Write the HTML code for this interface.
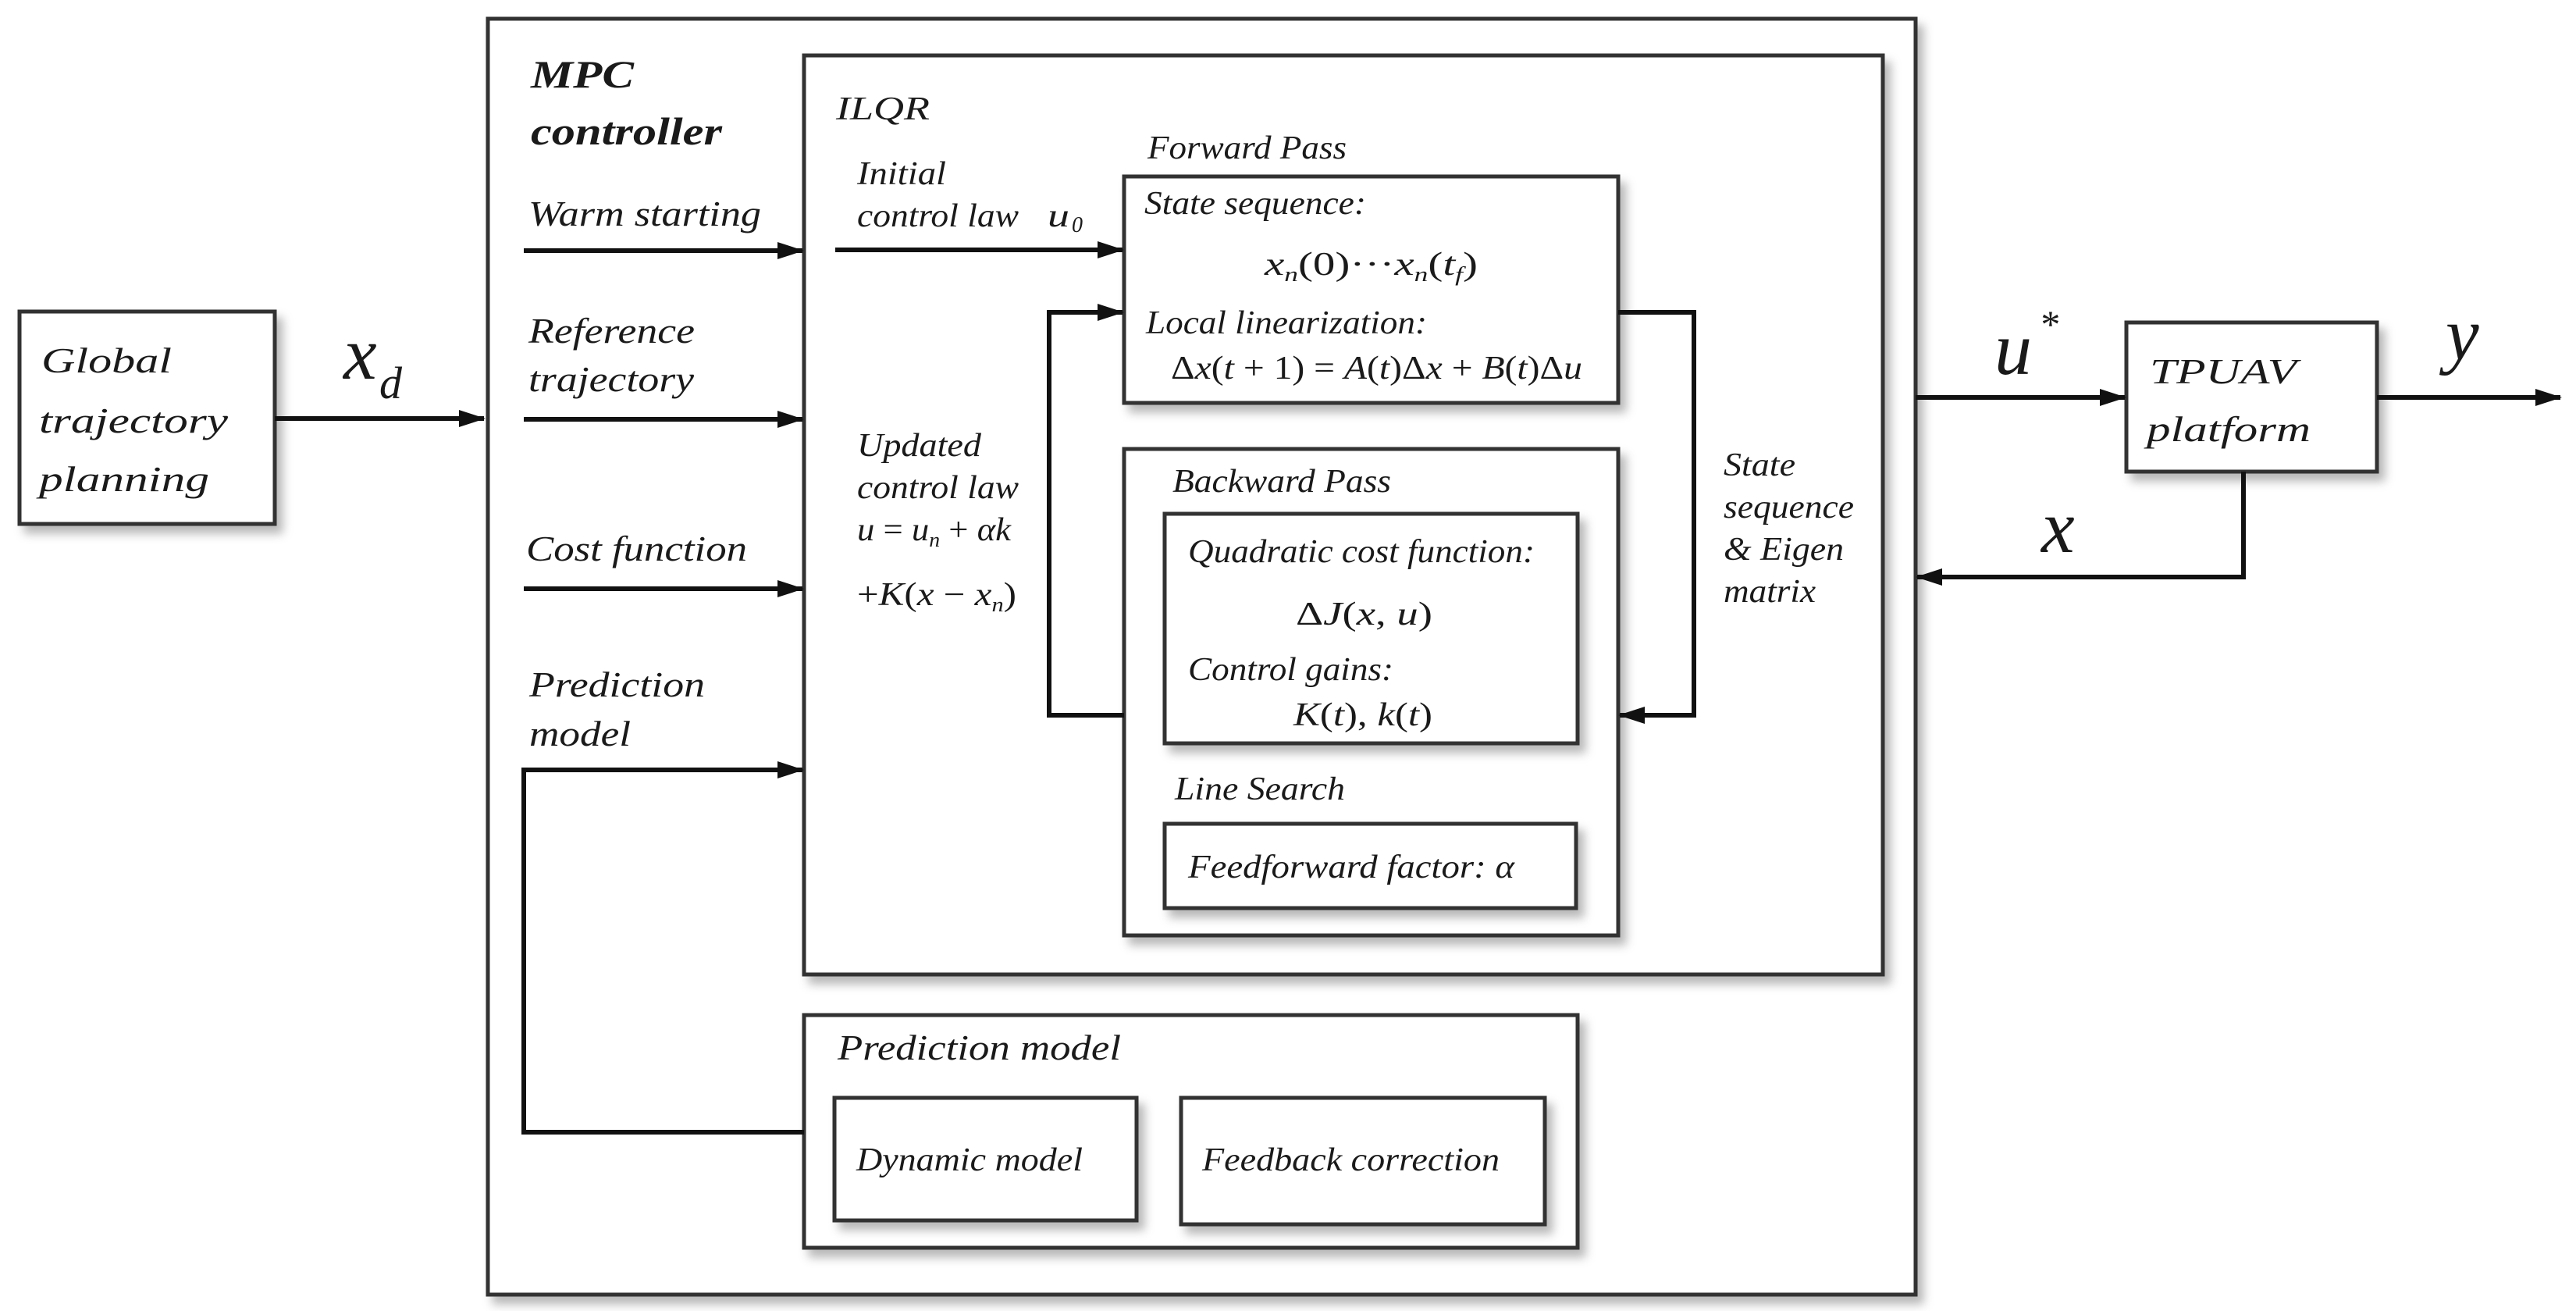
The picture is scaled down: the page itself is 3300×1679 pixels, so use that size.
<!DOCTYPE html>
<html><head><meta charset="utf-8"><style>
html,body{margin:0;padding:0;background:#fff;}
svg{display:block;}
text{font-family:"Liberation Serif",serif;font-style:italic;fill:#1a1a1a;}
</style></head><body>
<svg width="3300" height="1679" viewBox="0 0 3300 1679" xmlns="http://www.w3.org/2000/svg">
<defs>
<filter id="sh" x="-5%" y="-5%" width="115%" height="115%">
<feDropShadow dx="8" dy="10" stdDeviation="6" flood-color="#000" flood-opacity="0.28"/>
</filter>
<marker id="ar" markerWidth="34" markerHeight="26" refX="32" refY="13" orient="auto" markerUnits="userSpaceOnUse">
<path d="M0,2 L34,13 L0,24 Z" fill="#111"/>
</marker>
</defs>
<g fill="#fff" stroke="#333" stroke-width="5" filter="url(#sh)">
<rect x="25" y="399" width="327" height="272"/>
<rect x="625" y="24" width="1829" height="1634"/>
</g>
<g fill="#fff" stroke="#333" stroke-width="5" filter="url(#sh)">
<rect x="1030" y="71" width="1382" height="1177"/>
<rect x="2724" y="413" width="321" height="191"/>
<rect x="1030" y="1300" width="991" height="298"/>
</g>
<g fill="#fff" stroke="#333" stroke-width="5" filter="url(#sh)">
<rect x="1440" y="226" width="633" height="290"/>
<rect x="1440" y="575" width="633" height="623"/>
<rect x="1069" y="1406" width="387" height="157"/>
<rect x="1513" y="1406" width="466" height="162"/>
</g>
<g fill="#fff" stroke="#333" stroke-width="5" filter="url(#sh)">
<rect x="1492" y="658" width="529" height="294"/>
<rect x="1492" y="1055" width="527" height="108"/>
</g>
<g fill="none" stroke="#111" stroke-width="6">
<line x1="352" y1="536" x2="620" y2="536" marker-end="url(#ar)"/>
<line x1="671" y1="321" x2="1028" y2="321" marker-end="url(#ar)"/>
<line x1="671" y1="537" x2="1028" y2="537" marker-end="url(#ar)"/>
<line x1="671" y1="754" x2="1028" y2="754" marker-end="url(#ar)"/>
<polyline points="1030,1450 671,1450 671,986 1028,986" marker-end="url(#ar)"/>
<line x1="1070" y1="320" x2="1438" y2="320" marker-end="url(#ar)"/>
<polyline points="1440,916 1344,916 1344,400 1438,400" marker-end="url(#ar)"/>
<polyline points="2073,400 2170,400 2170,916 2075,916" marker-end="url(#ar)"/>
<line x1="2454" y1="509" x2="2722" y2="509" marker-end="url(#ar)"/>
<line x1="3045" y1="509" x2="3280" y2="509" marker-end="url(#ar)"/>
<polyline points="2874,604 2874,739 2456,739" marker-end="url(#ar)"/>
</g>
<g font-size="46">
<text x="53" y="477" textLength="167" lengthAdjust="spacingAndGlyphs">Global</text>
<text x="50" y="554" textLength="242" lengthAdjust="spacingAndGlyphs">trajectory</text>
<text x="50" y="629" textLength="218" lengthAdjust="spacingAndGlyphs">planning</text>
<text x="680" y="112" font-weight="bold" font-size="50" textLength="132" lengthAdjust="spacingAndGlyphs">MPC</text>
<text x="680" y="185" font-weight="bold" font-size="50" textLength="245" lengthAdjust="spacingAndGlyphs">controller</text>
<text x="677" y="289" textLength="298" lengthAdjust="spacingAndGlyphs">Warm starting</text>
<text x="677" y="439" textLength="213" lengthAdjust="spacingAndGlyphs">Reference</text>
<text x="677" y="501" textLength="212" lengthAdjust="spacingAndGlyphs">trajectory</text>
<text x="674" y="718" textLength="283" lengthAdjust="spacingAndGlyphs">Cost function</text>
<text x="678" y="892" textLength="225" lengthAdjust="spacingAndGlyphs">Prediction</text>
<text x="678" y="955" textLength="130" lengthAdjust="spacingAndGlyphs">model</text>
<text x="2754" y="491" textLength="188" lengthAdjust="spacingAndGlyphs">TPUAV</text>
<text x="2750" y="565" textLength="210" lengthAdjust="spacingAndGlyphs">platform</text>
</g>
<g font-size="42">
<text x="1071" y="153" textLength="120" lengthAdjust="spacingAndGlyphs">ILQR</text>
<text x="1098" y="236" textLength="114" lengthAdjust="spacingAndGlyphs">Initial</text>
<text x="1098" y="290" textLength="207" lengthAdjust="spacingAndGlyphs">control law</text>
<text x="1342" y="290" font-style="normal" textLength="28" lengthAdjust="spacingAndGlyphs">u</text>
<text x="1373" y="297" font-style="normal" font-size="28">0</text>
<text x="1470" y="203" textLength="255" lengthAdjust="spacingAndGlyphs">Forward Pass</text>
<text x="1466" y="274" textLength="284" lengthAdjust="spacingAndGlyphs">State sequence:</text>
<text x="1620" y="352" textLength="273" lengthAdjust="spacingAndGlyphs">x<tspan font-size="26" dy="8">n</tspan><tspan dy="-8" font-style="normal">(0)···</tspan>x<tspan font-size="26" dy="8">n</tspan><tspan dy="-8" font-style="normal">(</tspan>t<tspan font-size="26" dy="8">f</tspan><tspan dy="-8" font-style="normal">)</tspan></text>
<text x="1468" y="427" textLength="360" lengthAdjust="spacingAndGlyphs">Local linearization:</text>
<text x="1500" y="485" textLength="527" lengthAdjust="spacingAndGlyphs"><tspan font-style="normal">Δ</tspan>x<tspan font-style="normal">(</tspan>t<tspan font-style="normal"> + 1) = </tspan>A<tspan font-style="normal">(</tspan>t<tspan font-style="normal">)Δ</tspan>x<tspan font-style="normal"> + </tspan>B<tspan font-style="normal">(</tspan>t<tspan font-style="normal">)Δ</tspan>u</text>
<text x="1098" y="584" textLength="159" lengthAdjust="spacingAndGlyphs">Updated</text>
<text x="1098" y="638" textLength="207" lengthAdjust="spacingAndGlyphs">control law</text>
<text x="1098" y="692" textLength="197" lengthAdjust="spacingAndGlyphs">u<tspan font-style="normal"> = </tspan>u<tspan font-size="26" dy="8">n</tspan><tspan dy="-8" font-style="normal"> + </tspan>αk</text>
<text x="1098" y="775" textLength="204" lengthAdjust="spacingAndGlyphs"><tspan font-style="normal">+</tspan>K<tspan font-style="normal">(</tspan>x<tspan font-style="normal"> − </tspan>x<tspan font-size="26" dy="8">n</tspan><tspan dy="-8" font-style="normal">)</tspan></text>
<text x="1502" y="630" textLength="280" lengthAdjust="spacingAndGlyphs">Backward Pass</text>
<text x="1522" y="720" textLength="444" lengthAdjust="spacingAndGlyphs">Quadratic cost function:</text>
<text x="1660" y="800" textLength="175" lengthAdjust="spacingAndGlyphs"><tspan font-style="normal">Δ</tspan>J<tspan font-style="normal">(</tspan>x<tspan font-style="normal">, </tspan>u<tspan font-style="normal">)</tspan></text>
<text x="1522" y="871" textLength="263" lengthAdjust="spacingAndGlyphs">Control gains:</text>
<text x="1657" y="929" textLength="178" lengthAdjust="spacingAndGlyphs">K<tspan font-style="normal">(</tspan>t<tspan font-style="normal">), </tspan>k<tspan font-style="normal">(</tspan>t<tspan font-style="normal">)</tspan></text>
<text x="1505" y="1024" textLength="218" lengthAdjust="spacingAndGlyphs">Line Search</text>
<text x="1522" y="1124" textLength="418" lengthAdjust="spacingAndGlyphs">Feedforward factor: α</text>
<text x="2208" y="609" textLength="92" lengthAdjust="spacingAndGlyphs">State</text>
<text x="2208" y="663" textLength="167" lengthAdjust="spacingAndGlyphs">sequence</text>
<text x="2208" y="717" textLength="154" lengthAdjust="spacingAndGlyphs">&amp; Eigen</text>
<text x="2208" y="771" textLength="118" lengthAdjust="spacingAndGlyphs">matrix</text>
<text x="1073" y="1357" font-size="46" textLength="363" lengthAdjust="spacingAndGlyphs">Prediction model</text>
<text x="1097" y="1499" textLength="290" lengthAdjust="spacingAndGlyphs">Dynamic model</text>
<text x="1540" y="1499" textLength="381" lengthAdjust="spacingAndGlyphs">Feedback correction</text>
</g>
<g font-size="96">
<text x="440" y="485">x</text>
<text x="486" y="510" font-size="58">d</text>
<text x="2555" y="479">u</text>
<text x="2612" y="432" font-size="50" font-style="normal">*</text>
<text x="3133" y="460">y</text>
<text x="2615" y="707">x</text>
</g>
</svg>
</body></html>
